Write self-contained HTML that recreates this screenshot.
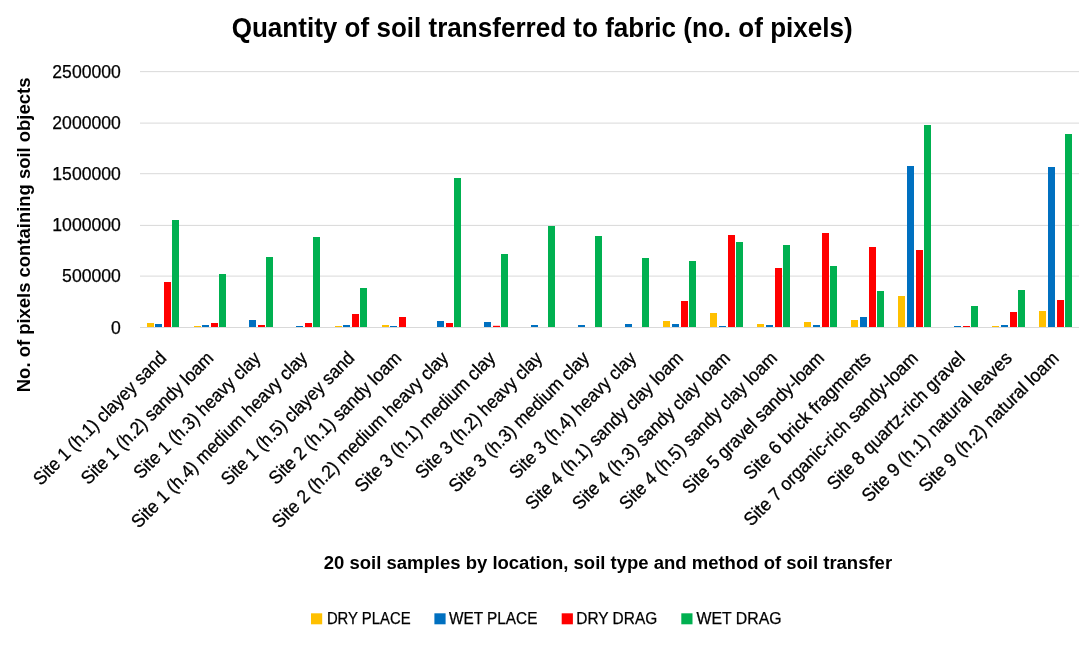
<!DOCTYPE html><html><head><meta charset="utf-8"><style>html,body{margin:0;padding:0;background:#fff;}svg{display:block;will-change:transform;}text{font-family:"Liberation Sans",sans-serif;}</style></head><body>
<svg width="1092" height="650" viewBox="0 0 1092 650">
<rect width="1092" height="650" fill="#fff"/>
<rect x="140.0" y="71.15" width="939" height="1" fill="#D9D9D9"/>
<rect x="140.0" y="122.6" width="939" height="1" fill="#D9D9D9"/>
<rect x="140.0" y="173.2" width="939" height="1" fill="#D9D9D9"/>
<rect x="140.0" y="224.9" width="939" height="1" fill="#D9D9D9"/>
<rect x="140.0" y="275.6" width="939" height="1" fill="#D9D9D9"/>
<rect x="147.00" y="323.00" width="7" height="4.00" fill="#FFC000"/>
<rect x="155.00" y="324.00" width="7" height="3.00" fill="#0070C0"/>
<rect x="164.00" y="282.00" width="7" height="45.00" fill="#FF0000"/>
<rect x="172.00" y="220.00" width="7" height="107.00" fill="#00B050"/>
<rect x="194.00" y="326.00" width="7" height="1.00" fill="#FFC000"/>
<rect x="202.00" y="325.00" width="7" height="2.00" fill="#0070C0"/>
<rect x="211.00" y="323.00" width="7" height="4.00" fill="#FF0000"/>
<rect x="219.00" y="274.00" width="7" height="53.00" fill="#00B050"/>
<rect x="249.00" y="320.00" width="7" height="7.00" fill="#0070C0"/>
<rect x="258.00" y="325.00" width="7" height="2.00" fill="#FF0000"/>
<rect x="266.00" y="257.00" width="7" height="70.00" fill="#00B050"/>
<rect x="296.00" y="326.00" width="7" height="1.00" fill="#0070C0"/>
<rect x="305.00" y="323.00" width="7" height="4.00" fill="#FF0000"/>
<rect x="313.00" y="237.00" width="7" height="90.00" fill="#00B050"/>
<rect x="335.00" y="326.00" width="7" height="1.00" fill="#FFC000"/>
<rect x="343.00" y="325.00" width="7" height="2.00" fill="#0070C0"/>
<rect x="352.00" y="314.00" width="7" height="13.00" fill="#FF0000"/>
<rect x="360.00" y="288.00" width="7" height="39.00" fill="#00B050"/>
<rect x="382.00" y="325.00" width="7" height="2.00" fill="#FFC000"/>
<rect x="390.00" y="326.00" width="7" height="1.00" fill="#0070C0"/>
<rect x="399.00" y="317.00" width="7" height="10.00" fill="#FF0000"/>
<rect x="437.00" y="321.00" width="7" height="6.00" fill="#0070C0"/>
<rect x="446.00" y="323.00" width="7" height="4.00" fill="#FF0000"/>
<rect x="454.00" y="178.00" width="7" height="149.00" fill="#00B050"/>
<rect x="484.00" y="322.00" width="7" height="5.00" fill="#0070C0"/>
<rect x="493.00" y="325.80" width="7" height="1.20" fill="#FF0000"/>
<rect x="501.00" y="254.00" width="7" height="73.00" fill="#00B050"/>
<rect x="531.00" y="325.00" width="7" height="2.00" fill="#0070C0"/>
<rect x="548.00" y="226.00" width="7" height="101.00" fill="#00B050"/>
<rect x="578.00" y="325.00" width="7" height="2.00" fill="#0070C0"/>
<rect x="595.00" y="236.00" width="7" height="91.00" fill="#00B050"/>
<rect x="625.00" y="324.00" width="7" height="3.00" fill="#0070C0"/>
<rect x="642.00" y="258.00" width="7" height="69.00" fill="#00B050"/>
<rect x="663.00" y="321.00" width="7" height="6.00" fill="#FFC000"/>
<rect x="672.00" y="324.00" width="7" height="3.00" fill="#0070C0"/>
<rect x="681.00" y="301.00" width="7" height="26.00" fill="#FF0000"/>
<rect x="689.00" y="261.00" width="7" height="66.00" fill="#00B050"/>
<rect x="710.00" y="313.00" width="7" height="14.00" fill="#FFC000"/>
<rect x="719.00" y="326.00" width="7" height="1.00" fill="#0070C0"/>
<rect x="728.00" y="235.00" width="7" height="92.00" fill="#FF0000"/>
<rect x="736.00" y="242.00" width="7" height="85.00" fill="#00B050"/>
<rect x="757.00" y="324.00" width="7" height="3.00" fill="#FFC000"/>
<rect x="766.00" y="325.00" width="7" height="2.00" fill="#0070C0"/>
<rect x="775.00" y="268.00" width="7" height="59.00" fill="#FF0000"/>
<rect x="783.00" y="245.00" width="7" height="82.00" fill="#00B050"/>
<rect x="804.00" y="322.00" width="7" height="5.00" fill="#FFC000"/>
<rect x="813.00" y="325.00" width="7" height="2.00" fill="#0070C0"/>
<rect x="822.00" y="233.00" width="7" height="94.00" fill="#FF0000"/>
<rect x="830.00" y="266.00" width="7" height="61.00" fill="#00B050"/>
<rect x="851.00" y="320.00" width="7" height="7.00" fill="#FFC000"/>
<rect x="860.00" y="317.00" width="7" height="10.00" fill="#0070C0"/>
<rect x="869.00" y="247.00" width="7" height="80.00" fill="#FF0000"/>
<rect x="877.00" y="291.00" width="7" height="36.00" fill="#00B050"/>
<rect x="898.00" y="296.00" width="7" height="31.00" fill="#FFC000"/>
<rect x="907.00" y="166.00" width="7" height="161.00" fill="#0070C0"/>
<rect x="916.00" y="250.00" width="7" height="77.00" fill="#FF0000"/>
<rect x="924.00" y="125.00" width="7" height="202.00" fill="#00B050"/>
<rect x="954.00" y="326.00" width="7" height="1.00" fill="#0070C0"/>
<rect x="963.00" y="326.00" width="7" height="1.00" fill="#FF0000"/>
<rect x="971.00" y="306.00" width="7" height="21.00" fill="#00B050"/>
<rect x="992.00" y="326.00" width="7" height="1.00" fill="#FFC000"/>
<rect x="1001.00" y="325.00" width="7" height="2.00" fill="#0070C0"/>
<rect x="1010.00" y="312.00" width="7" height="15.00" fill="#FF0000"/>
<rect x="1018.00" y="290.00" width="7" height="37.00" fill="#00B050"/>
<rect x="1039.00" y="311.00" width="7" height="16.00" fill="#FFC000"/>
<rect x="1048.00" y="167.00" width="7" height="160.00" fill="#0070C0"/>
<rect x="1057.00" y="300.00" width="7" height="27.00" fill="#FF0000"/>
<rect x="1065.00" y="134.00" width="7" height="193.00" fill="#00B050"/>
<rect x="140.0" y="327.0" width="939" height="1" fill="#D9D9D9"/>
<text x="120.8" y="77.9" font-size="18.0" text-anchor="end" textLength="68.46" lengthAdjust="spacingAndGlyphs" stroke="#000" stroke-width="0.25" fill="#000">2500000</text>
<text x="120.8" y="128.9" font-size="18.0" text-anchor="end" textLength="68.46" lengthAdjust="spacingAndGlyphs" stroke="#000" stroke-width="0.25" fill="#000">2000000</text>
<text x="120.8" y="180.0" font-size="18.0" text-anchor="end" textLength="68.46" lengthAdjust="spacingAndGlyphs" stroke="#000" stroke-width="0.25" fill="#000">1500000</text>
<text x="120.8" y="231.1" font-size="18.0" text-anchor="end" textLength="68.46" lengthAdjust="spacingAndGlyphs" stroke="#000" stroke-width="0.25" fill="#000">1000000</text>
<text x="120.8" y="282.3" font-size="18.0" text-anchor="end" textLength="58.68" lengthAdjust="spacingAndGlyphs" stroke="#000" stroke-width="0.25" fill="#000">500000</text>
<text x="120.8" y="333.5" font-size="18.0" text-anchor="end" textLength="9.78" lengthAdjust="spacingAndGlyphs" stroke="#000" stroke-width="0.25" fill="#000">0</text>
<text x="167.59" y="359.30" font-size="18.6" text-anchor="end" textLength="179.5" lengthAdjust="spacingAndGlyphs" stroke="#000" stroke-width="0.3" transform="rotate(-45 167.59 359.30)" fill="#000">Site 1 (h.1) clayey sand</text>
<text x="214.55" y="359.30" font-size="18.6" text-anchor="end" textLength="178.4" lengthAdjust="spacingAndGlyphs" stroke="#000" stroke-width="0.3" transform="rotate(-45 214.55 359.30)" fill="#000">Site 1 (h.2) sandy loam</text>
<text x="261.53" y="359.30" font-size="18.6" text-anchor="end" textLength="170.5" lengthAdjust="spacingAndGlyphs" stroke="#000" stroke-width="0.3" transform="rotate(-45 261.53 359.30)" fill="#000">Site 1 (h.3) heavy clay</text>
<text x="308.50" y="359.30" font-size="18.6" text-anchor="end" textLength="240.1" lengthAdjust="spacingAndGlyphs" stroke="#000" stroke-width="0.3" transform="rotate(-45 308.50 359.30)" fill="#000">Site 1 (h.4) medium heavy clay</text>
<text x="355.47" y="359.30" font-size="18.6" text-anchor="end" textLength="179.5" lengthAdjust="spacingAndGlyphs" stroke="#000" stroke-width="0.3" transform="rotate(-45 355.47 359.30)" fill="#000">Site 1 (h.5) clayey sand</text>
<text x="402.44" y="359.30" font-size="18.6" text-anchor="end" textLength="178.4" lengthAdjust="spacingAndGlyphs" stroke="#000" stroke-width="0.3" transform="rotate(-45 402.44 359.30)" fill="#000">Site 2 (h.1) sandy loam</text>
<text x="449.41" y="359.30" font-size="18.6" text-anchor="end" textLength="240.1" lengthAdjust="spacingAndGlyphs" stroke="#000" stroke-width="0.3" transform="rotate(-45 449.41 359.30)" fill="#000">Site 2 (h.2) medium heavy clay</text>
<text x="496.38" y="359.30" font-size="18.6" text-anchor="end" textLength="189.6" lengthAdjust="spacingAndGlyphs" stroke="#000" stroke-width="0.3" transform="rotate(-45 496.38 359.30)" fill="#000">Site 3 (h.1) medium clay</text>
<text x="543.35" y="359.30" font-size="18.6" text-anchor="end" textLength="170.5" lengthAdjust="spacingAndGlyphs" stroke="#000" stroke-width="0.3" transform="rotate(-45 543.35 359.30)" fill="#000">Site 3 (h.2) heavy clay</text>
<text x="590.31" y="359.30" font-size="18.6" text-anchor="end" textLength="189.6" lengthAdjust="spacingAndGlyphs" stroke="#000" stroke-width="0.3" transform="rotate(-45 590.31 359.30)" fill="#000">Site 3 (h.3) medium clay</text>
<text x="637.28" y="359.30" font-size="18.6" text-anchor="end" textLength="170.5" lengthAdjust="spacingAndGlyphs" stroke="#000" stroke-width="0.3" transform="rotate(-45 637.28 359.30)" fill="#000">Site 3 (h.4) heavy clay</text>
<text x="684.25" y="359.30" font-size="18.6" text-anchor="end" textLength="214.2" lengthAdjust="spacingAndGlyphs" stroke="#000" stroke-width="0.3" transform="rotate(-45 684.25 359.30)" fill="#000">Site 4 (h.1) sandy clay loam</text>
<text x="731.23" y="359.30" font-size="18.6" text-anchor="end" textLength="214.2" lengthAdjust="spacingAndGlyphs" stroke="#000" stroke-width="0.3" transform="rotate(-45 731.23 359.30)" fill="#000">Site 4 (h.3) sandy clay loam</text>
<text x="778.20" y="359.30" font-size="18.6" text-anchor="end" textLength="214.2" lengthAdjust="spacingAndGlyphs" stroke="#000" stroke-width="0.3" transform="rotate(-45 778.20 359.30)" fill="#000">Site 4 (h.5) sandy clay loam</text>
<text x="825.16" y="359.30" font-size="18.6" text-anchor="end" textLength="191.5" lengthAdjust="spacingAndGlyphs" stroke="#000" stroke-width="0.3" transform="rotate(-45 825.16 359.30)" fill="#000">Site 5 gravel sandy-loam</text>
<text x="872.13" y="359.30" font-size="18.6" text-anchor="end" textLength="171.6" lengthAdjust="spacingAndGlyphs" stroke="#000" stroke-width="0.3" transform="rotate(-45 872.13 359.30)" fill="#000">Site 6 brick fragments</text>
<text x="919.11" y="359.30" font-size="18.6" text-anchor="end" textLength="237.3" lengthAdjust="spacingAndGlyphs" stroke="#000" stroke-width="0.3" transform="rotate(-45 919.11 359.30)" fill="#000">Site 7 organic-rich sandy-loam</text>
<text x="966.08" y="359.30" font-size="18.6" text-anchor="end" textLength="186.2" lengthAdjust="spacingAndGlyphs" stroke="#000" stroke-width="0.3" transform="rotate(-45 966.08 359.30)" fill="#000">Site 8 quartz-rich gravel</text>
<text x="1013.04" y="359.30" font-size="18.6" text-anchor="end" textLength="203.3" lengthAdjust="spacingAndGlyphs" stroke="#000" stroke-width="0.3" transform="rotate(-45 1013.04 359.30)" fill="#000">Site 9 (h.1) natural leaves</text>
<text x="1060.01" y="359.30" font-size="18.6" text-anchor="end" textLength="189.2" lengthAdjust="spacingAndGlyphs" stroke="#000" stroke-width="0.3" transform="rotate(-45 1060.01 359.30)" fill="#000">Site 9 (h.2) natural loam</text>
<text x="231.7" y="37.2" font-size="27.4" font-weight="bold" textLength="621" lengthAdjust="spacingAndGlyphs" fill="#000">Quantity of soil transferred to fabric (no. of pixels)</text>
<text x="0" y="0" font-size="18.6" font-weight="bold" textLength="314.6" lengthAdjust="spacingAndGlyphs" transform="translate(30.2 392.2) rotate(-90)" fill="#000">No. of pixels containing soil objects</text>
<text x="323.8" y="568.6" font-size="19.1" font-weight="bold" textLength="568.3" lengthAdjust="spacingAndGlyphs" fill="#000">20 soil samples by location, soil type and method of soil transfer</text>
<rect x="311" y="613.3" width="11.2" height="11" fill="#FFC000"/>
<text x="326.9" y="624.3" font-size="15.8" stroke="#000" stroke-width="0.25" textLength="83.7" lengthAdjust="spacingAndGlyphs" fill="#000">DRY PLACE</text>
<rect x="434.4" y="613.3" width="11.2" height="11" fill="#0070C0"/>
<text x="449.0" y="624.3" font-size="15.8" stroke="#000" stroke-width="0.25" textLength="88.4" lengthAdjust="spacingAndGlyphs" fill="#000">WET PLACE</text>
<rect x="561.7" y="613.3" width="11.2" height="11" fill="#FF0000"/>
<text x="576.3" y="624.3" font-size="15.8" stroke="#000" stroke-width="0.25" textLength="80.9" lengthAdjust="spacingAndGlyphs" fill="#000">DRY DRAG</text>
<rect x="681.3" y="613.3" width="11.2" height="11" fill="#00B050"/>
<text x="696.5" y="624.3" font-size="15.8" stroke="#000" stroke-width="0.25" textLength="85.0" lengthAdjust="spacingAndGlyphs" fill="#000">WET DRAG</text>
</svg></body></html>
